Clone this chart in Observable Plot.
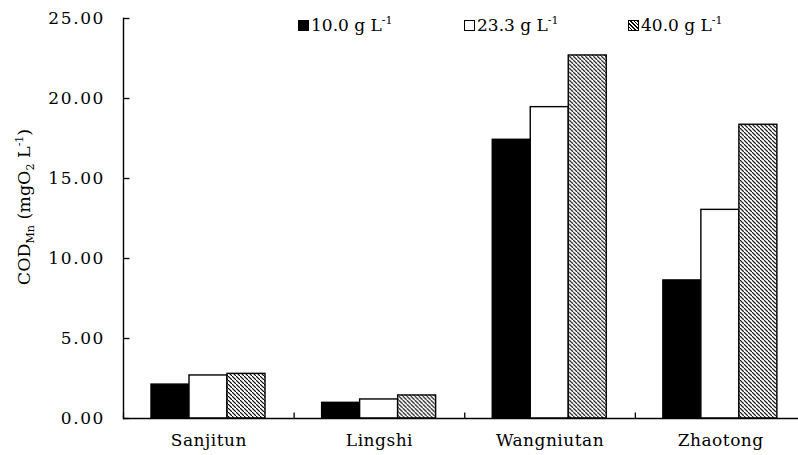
<!DOCTYPE html>
<html>
<head>
<meta charset="utf-8">
<script src="https://cdn.jsdelivr.net/npm/d3@7"></script>
<script src="https://cdn.jsdelivr.net/npm/@observablehq/plot@0.6"></script>
<style>
  html, body { margin: 0; padding: 0; background: white; overflow: hidden; }
  #wrap { position: relative; width: 798px; height: 455px; overflow: hidden; font-family: "DejaVu Serif", serif; }
  #wrap svg { display: block; }
  .legend { position: absolute; top: 15px; left: 0; width: 798px; height: 28px; font-size: 17px; color: #000; }
  .item { position: absolute; top: 0; display: flex; align-items: center; white-space: nowrap; }
  .sw { width: 9px; height: 9px; border: 1.5px solid #000; margin-right: 2px; box-sizing: content-box; }
  sup { font-size: 11px; vertical-align: 7px; line-height: 0; }
</style>
</head>
<body>
<div id="wrap"></div>
<script>
const categories = ["Sanjitun", "Lingshi", "Wangniutan", "Zhaotong"];
const series = ["10.0", "23.3", "40.0"];
const values10 = [2.12, 0.98, 17.42, 8.63];
const values23 = [2.69, 1.19, 19.46, 13.04];
const values40 = [2.79, 1.44, 22.69, 18.36];
const yTicks = [0, 5, 10, 15, 20, 25];
const yTickLabels = ["0.00", "5.00", "10.00", "15.00", "20.00", "25.00"];

const seriesValues = [values10, values23, values40];
const data = [];
categories.forEach((c, ci) => {
  series.forEach((s, si) => data.push({category: c, series: s, value: seriesValues[si][ci]}));
});

const fills = ["#000000", "#ffffff", "url(#hatch)"];

// small tick symbols (inward ticks)
const tickUp = {draw(ctx) { ctx.moveTo(0, 0); ctx.lineTo(0, -6); }};
const tickRight = {draw(ctx) { ctx.moveTo(0, 0); ctx.lineTo(6, 0); }};

const chart = Plot.plot({
  width: 798,
  height: 455,
  marginLeft: 123,
  marginRight: 0,
  marginTop: 18,
  marginBottom: 37,
  style: {fontFamily: "DejaVu Serif, serif", fontSize: "17px", color: "#000", background: "white"},
  fx: {domain: categories, padding: 0, label: null, range: [123, 805.5], round: false},
  x: {domain: series, paddingInner: 0, paddingOuter: 0.74, axis: null},
  y: {domain: [0, 25], axis: null},
  color: {domain: series, range: fills, type: "ordinal"},
  marks: [
    Plot.barY(data, {fx: "category", x: "series", y: "value", fill: "series", stroke: "#000", strokeWidth: 1.4}),
    Plot.ruleY([0], {stroke: "#000", strokeWidth: 1.4}),
    Plot.frame({anchor: "left", facetAnchor: "left", stroke: "#000", strokeWidth: 1.4}),
    Plot.dot(yTicks, {y: d => d, frameAnchor: "left", symbol: tickRight, stroke: "#000", strokeWidth: 1.3, facetAnchor: "left"}),
    Plot.dot([0], {frameAnchor: "bottom-left", symbol: tickUp, stroke: "#000", strokeWidth: 1.3}),
    Plot.axisY({ticks: yTicks, tickFormat: d => yTickLabels[yTicks.indexOf(d)], tickSize: 0, tickPadding: 18.5, label: null, fontSize: 17}),
    Plot.axisFx({anchor: "bottom", tickSize: 0, tickPadding: 15, label: null, fontSize: 17})
  ]
});

const svg = d3.select(chart);
// wider glyph spacing to match the reference typeface
svg.select('g[aria-label="y-axis tick label"]').attr("letter-spacing", "1.6");
svg.select('g[aria-label="fx-axis tick label"]').attr("letter-spacing", "0.5");

// hatch pattern definition
svg.insert("defs", ":first-child").html(
  '<pattern id="hatch" patternUnits="userSpaceOnUse" width="4" height="4">' +
  '<rect width="4" height="4" fill="white"/>' +
  '<path d="M-1,-1 L1,1 M0,0 L4,4 M3,3 L5,5" stroke="#000" stroke-width="1.1"/>' +
  '</pattern>');

// y-axis title with sub/superscripts
const t = svg.append("text")
  .attr("transform", "translate(30,207) rotate(-90)")
  .attr("text-anchor", "middle")
  .attr("font-size", 17.5)
  .attr("fill", "#000");
t.append("tspan").text("COD");
t.append("tspan").attr("font-size", 11).attr("dy", 4).text("Mn");
t.append("tspan").attr("dy", -4).text(" (mgO");
t.append("tspan").attr("font-size", 11).attr("dy", 4).text("2");
t.append("tspan").attr("dy", -4).text(" L");
t.append("tspan").attr("font-size", 11).attr("dy", -7).text("-1");
t.append("tspan").attr("dy", 7).text(")");

const wrap = document.getElementById("wrap");
wrap.appendChild(chart);

// legend
const legend = document.createElement("div");
legend.className = "legend";
const legendX = [298, 464, 628];
const swatchStyles = [
  "background:#000;",
  "background:#fff;",
  "background: repeating-linear-gradient(45deg, #fff 0px, #fff 1.5px, #000 1.5px, #000 2.6px);"
];
series.forEach((s, i) => {
  const item = document.createElement("div");
  item.className = "item";
  item.style.left = legendX[i] + "px";
  item.innerHTML = `<div class="sw" style="${swatchStyles[i]}"></div><span>${s} g L<sup>-1</sup></span>`;
  legend.appendChild(item);
});
wrap.appendChild(legend);
</script>
</body>
</html>
